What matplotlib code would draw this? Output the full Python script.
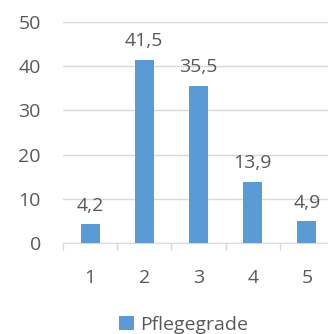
import matplotlib.pyplot as plt

categories = ["1", "2", "3", "4", "5"]
values = [4.2, 41.5, 35.5, 13.9, 4.9]
value_labels = ["4,2", "41,5", "35,5", "13,9", "4,9"]
series_name = "Pflegegrade"

bar_color = "#5B9BD5"
text_color = "#595959"
grid_color = "#D9D9D9"

plt.rcParams['font.family'] = ['Open Sans', 'DejaVu Sans']

fig = plt.figure(figsize=(3.28, 3.34), dpi=100)
ax = fig.add_axes([63 / 328, 91 / 334, 271 / 328, 221 / 334])

x = list(range(1, len(categories) + 1))
bars = ax.bar(x, values, width=0.35, color=bar_color, label=series_name, zorder=3)

for xi, v, lab in zip(x, values, value_labels):
    ax.annotate(lab, (xi, v), xytext=(0, 7), textcoords="offset points",
                ha="center", va="bottom", fontsize=14, color=text_color)

ax.set_xlim(0.5, 5.5)
ax.set_ylim(0, 50)
ax.set_yticks([0, 10, 20, 30, 40, 50])
ax.yaxis.grid(True, color=grid_color, linewidth=1, zorder=0)
ax.tick_params(axis="y", length=0, pad=16, labelsize=14, labelcolor=text_color)

ax.set_xticks(x)
ax.set_xticklabels(categories)
ax.set_xticks([0.5, 1.5, 2.5, 3.5, 4.5, 5.5], minor=True)
ax.tick_params(axis="x", which="major", length=0, pad=19, labelsize=14, labelcolor=text_color)
ax.tick_params(axis="x", which="minor", length=5, color=grid_color, width=1)

for s in ["top", "right", "left"]:
    ax.spines[s].set_visible(False)
ax.spines["bottom"].set_color(grid_color)

fig.legend(loc="lower center", bbox_to_anchor=(0.56, 0.0), frameon=False,
           fontsize=14, labelcolor=text_color, handlelength=0.75, handleheight=0.75,
           handletextpad=0.3, borderpad=0, borderaxespad=0)

fig.savefig("out.png", dpi=100)
